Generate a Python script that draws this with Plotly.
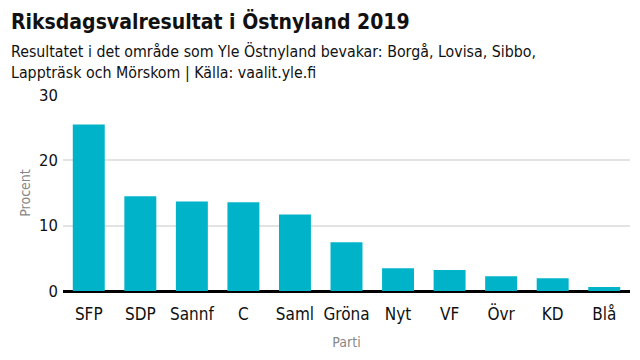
import plotly.graph_objects as go

parties = ["SFP", "SDP", "Sannf", "C", "Saml", "Gröna", "Nyt", "VF", "Övr", "KD", "Blå"]
percent = [25.5, 14.5, 13.7, 13.6, 11.7, 7.45, 3.5, 3.2, 2.25, 1.95, 0.6]

FONT = "DejaVu Sans Condensed, Liberation Sans Narrow, sans-serif"

fig = go.Figure(go.Bar(x=parties, y=percent, marker_color="#00b3c8", marker_line_width=0))

L, R, T, B = 63, 10, 95, 69
ph = 360 - T - B
pw = 640 - L - R

def px_x(p):
    return (p - L) / pw

def px_y(p):
    return (360 - B - p) / ph

fig.update_layout(
    width=640, height=360,
    margin=dict(l=L, r=R, t=T, b=B),
    paper_bgcolor="white", plot_bgcolor="white",
    font=dict(family=FONT, color="#111", size=15),
    bargap=0.38,
    showlegend=False,
    xaxis=dict(
        automargin=False,
        title=dict(text="Parti", font=dict(size=14, color="#888"), standoff=14),
        showgrid=False, showline=False, ticks="", tickfont=dict(size=17, color="#111"),
        ticklabelstandoff=11,
    ),
    yaxis=dict(
        automargin=False,
        range=[0, 30], tickvals=[0, 10, 20, 30], showgrid=True, gridcolor="#e3e3e3", gridwidth=2,
        zeroline=True, zerolinecolor="#000", zerolinewidth=3, showline=False, ticks="",
        tickfont=dict(size=16.5, color="#111"), ticklabelstandoff=4,
        title=dict(text="Procent", font=dict(size=14, color="#888"), standoff=5),
    ),
    annotations=[
        dict(text="<b>Riksdagsvalresultat i Östnyland 2019</b>", xref="paper", yref="paper",
             x=px_x(9), y=px_y(7), xanchor="left", yanchor="top", showarrow=False,
             font=dict(size=21, color="#111", family=FONT)),
        dict(text="Resultatet i det område som Yle Östnyland bevakar: Borgå, Lovisa, Sibbo,<br>Lappträsk och Mörskom | Källa: vaalit.yle.fi",
             xref="paper", yref="paper", x=px_x(9), y=px_y(40), xanchor="left", yanchor="top",
             align="left", showarrow=False, font=dict(size=15.8, color="#111", family=FONT)),
    ],
)

fig.write_html("out.html", config={"displayModeBar": False},
               post_script="document.body.style.margin='0';")
